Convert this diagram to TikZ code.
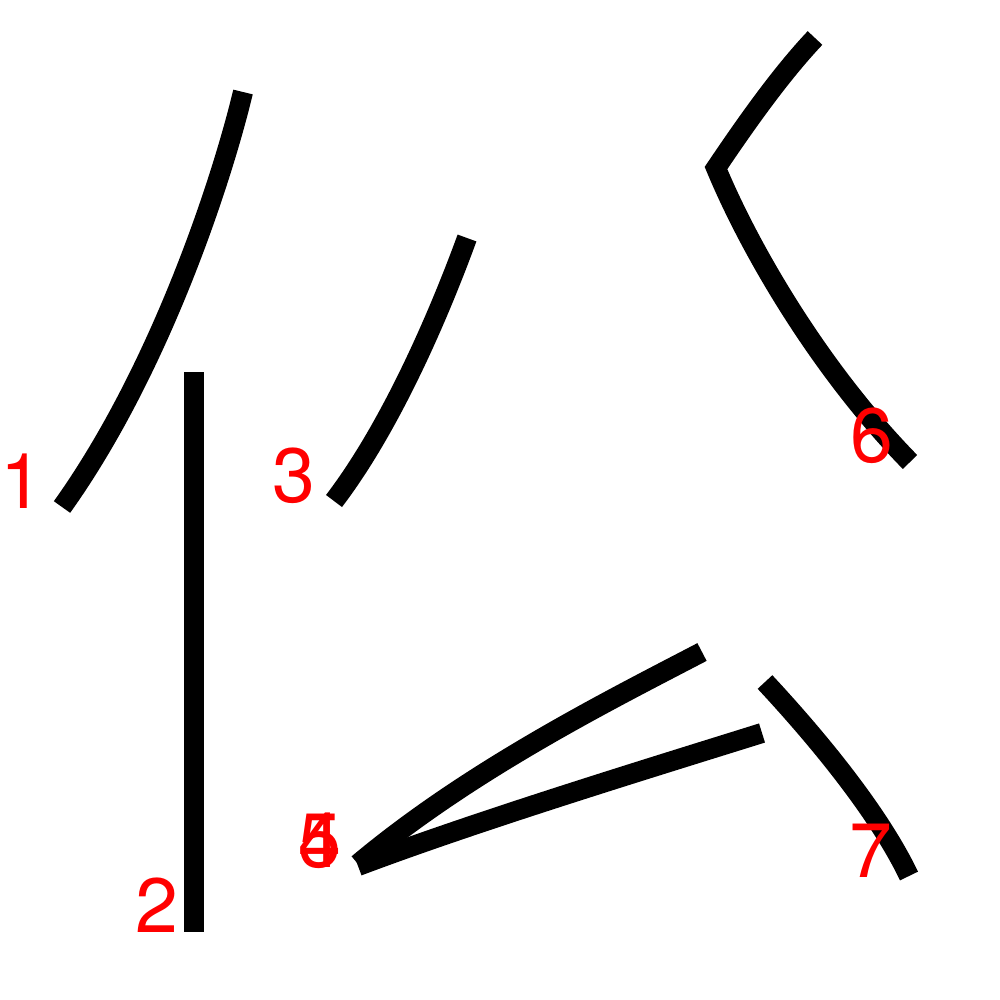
\documentclass[tikz,border=0pt]{standalone}
\usepackage{fontspec}
\setmainfont{TeX Gyre Heros}
\usepackage{tikz}

\begin{document}
\begin{tikzpicture}[x=0.01cm, y=-0.01cm,
    kstroke/.style={line width=0.2cm, line cap=butt, miter limit=10},
    strokenum/.style={text=red, inner sep=0pt, anchor=base west, font=\fontsize{21.9pt}{26pt}\selectfont}]
  \useasboundingbox (0,0) rectangle (1000,1000);
  \draw[kstroke] (243,92) .. controls (222,180) and (160,370) .. (62,507);
  \draw[kstroke] (194,372) -- (194,932);
  \draw[kstroke] (467,238) .. controls (440,312) and (392,425) .. (334,501);
  \draw[kstroke] (702,652) .. controls (610,700) and (470,770) .. (358,864);
  \draw[kstroke] (762,733) .. controls (650,768) and (480,820) .. (358,866);
  \draw[kstroke] (815,38) .. controls (780,75) and (745,125) .. (716,168)
    .. controls (750,250) and (820,370) .. (910,462);
  \draw[kstroke] (765,682) .. controls (805,725) and (875,805) .. (909,876);
  \node[strokenum] (n1) at (0,508) {1};
  \node[strokenum] (n2) at (135,932) {2};
  \node[strokenum] (n3) at (272,502) {3};
  \node[strokenum] (n4) at (298,867) {4};
  \node[strokenum] (n5) at (298,867) {5};
  \node[strokenum] (n6) at (850,462) {6};
  \node[strokenum] (n7) at (849,877) {7};
\end{tikzpicture}
\end{document}
